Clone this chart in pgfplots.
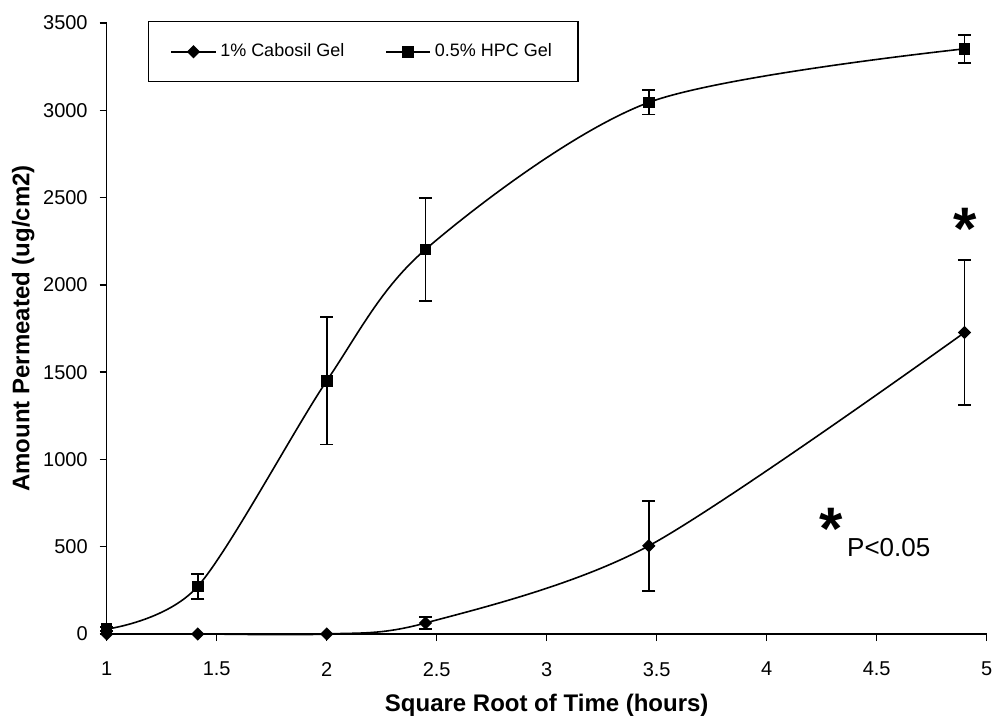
\documentclass[border=0pt]{standalone}
\usepackage{fontspec}
\setmainfont{Liberation Sans}
\usepackage{pgfplots}
\pgfplotsset{compat=1.18}

% sqrt(time) vs amount permeated, mean and SD
\pgfplotstableread{
x      y     e
1.000  0     0
1.414  0     0
2.000  0     0
2.449  63    33
3.464  505   257
4.899  1727  415
}\cabosil
\pgfplotstableread{
x      y     e
1.000  28    12
1.414  273   71
2.000  1450  365
2.449  2203  295
3.464  3045  70
4.899  3352  80
}\hpc

\begin{document}
\begin{tikzpicture}
\path[use as bounding box] (-53.35pt,-42pt) rectangle (443.65pt,317pt);
\begin{axis}[
  at={(0,0)}, anchor=south west,
  scale only axis, width=440pt, height=305.5pt,
  xmin=1, xmax=5, ymin=0, ymax=3500,
  xtick={1,1.5,...,5}, ytick={0,500,...,3500},
  axis lines=left, axis line style={-, line width=0.75pt},
  tick align=outside, major tick length=3.5pt,
  tick style={black, line width=0.75pt},
  /pgf/number format/assume math mode=true,
  /pgf/number format/set thousands separator={},
  tick label style={font=\fontsize{10}{12}\selectfont},
  xticklabel style={yshift=-7pt},
  yticklabel style={xshift=-2.5pt},
  xlabel={\textbf{Square Root of Time (hours)}},
  ylabel={\textbf{Amount Permeated (ug/cm2)}},
  label style={font=\fontsize{12}{14}\selectfont},
  xlabel style={at={(axis description cs:0.5,-0.116)}, anchor=center},
  ylabel style={at={(axis description cs:-0.095,0.5)}, anchor=center},
  clip=false,
  legend columns=2,
  legend cell align=left,
  legend image code/.code={\draw[mark repeat=2,mark phase=2,#1] plot coordinates {(0pt,0pt) (11pt,0pt) (22pt,0pt)};},
  legend style={at={(axis description cs:0.047,1.003)}, anchor=north west,
    draw=black, line width=0.6pt, inner xsep=11pt, inner ysep=9pt,
    font=\fontsize{9}{10}\selectfont,
    /tikz/every even column/.append style={column sep=18.5pt}},
]
\addplot[black, line width=0.8pt, smooth, mark=square*, mark size=1.95pt,
  mark options={solid, rotate=45},
  error bars/.cd, y dir=both, y explicit,
  error bar style={line width=0.8pt},
  error mark options={rotate=90, mark size=3.25pt, line width=0.8pt}]
  table[x=x, y=y, y error=e] {\cabosil};
\addlegendentry{1\% Cabosil Gel}
\addplot[black, line width=0.8pt, smooth, mark=square*, mark size=2.5pt,
  mark options={solid},
  error bars/.cd, y dir=both, y explicit,
  error bar style={line width=0.8pt},
  error mark options={rotate=90, mark size=3.25pt, line width=0.8pt}]
  table[x=x, y=y, y error=e] {\hpc};
\addlegendentry{0.5\% HPC Gel}
\node[anchor=north, inner sep=0pt, font=\fontsize{30}{30}\selectfont\bfseries] at (axis cs:4.904,2440) {*};
\node[anchor=north, inner sep=0pt, font=\fontsize{30}{30}\selectfont\bfseries] at (axis cs:4.292,722) {*};
\node[anchor=base west, inner sep=0pt, font=\fontsize{13}{15}\selectfont] at (axis cs:4.364,443) {P<0.05};
\end{axis}
\end{tikzpicture}
\end{document}
